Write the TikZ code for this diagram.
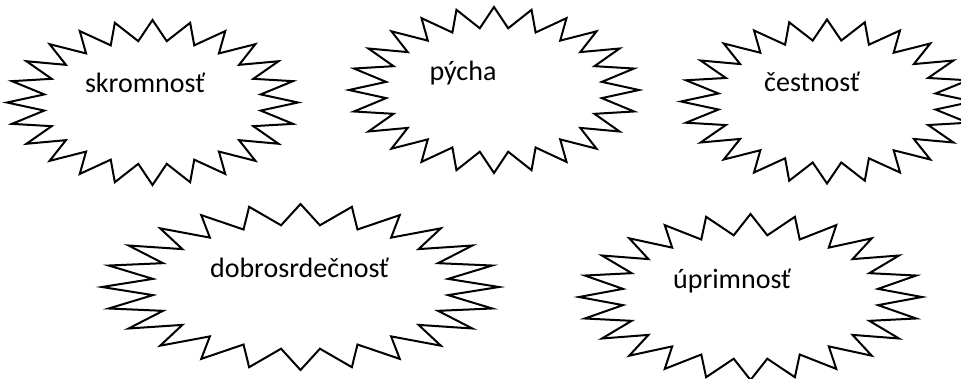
\documentclass[tikz,border=0pt]{standalone}
\usepackage{fontspec}
\setmainfont{Carlito}
\tikzset{
  starline/.style={draw=black, line width=2pt, line join=miter, fill=white},
  lbl/.style={anchor=base, inner sep=0pt, font=\fontsize{28}{32}\selectfont, text=black},
  star24/.pic={
    \path[starline] (0:1) \foreach \i [evaluate=\i as \r using {1-0.25*mod(\i,2)}] in {1,...,47} { -- ({\i*7.5}:\r) } -- cycle;
  }
}
\begin{document}
\begin{tikzpicture}[x=1pt,y=-1pt]
\useasboundingbox[fill=white] (0,0) rectangle (961,378);
\pic[xscale=145.5, yscale=82.5] at (152.5,102.5) {star24};
\pic[xscale=145, yscale=83] at (494,90) {star24};
\pic[xscale=146, yscale=82] at (827,101.5) {star24};
\pic[xscale=198.5, yscale=83] at (300.5,287) {star24};
\pic[xscale=171.5, yscale=83] at (750.5,297) {star24};
\node[lbl] (t1) at (145,92) {skromnosť};
\node[lbl] (t2) at (463,80) {pýcha};
\node[lbl] (t3) at (812,91) {čestnosť};
\node[lbl] (t4) at (299.5,277) {dobrosrdečnosť};
\node[lbl] (t5) at (732,288) {úprimnosť};
\end{tikzpicture}
\end{document}
